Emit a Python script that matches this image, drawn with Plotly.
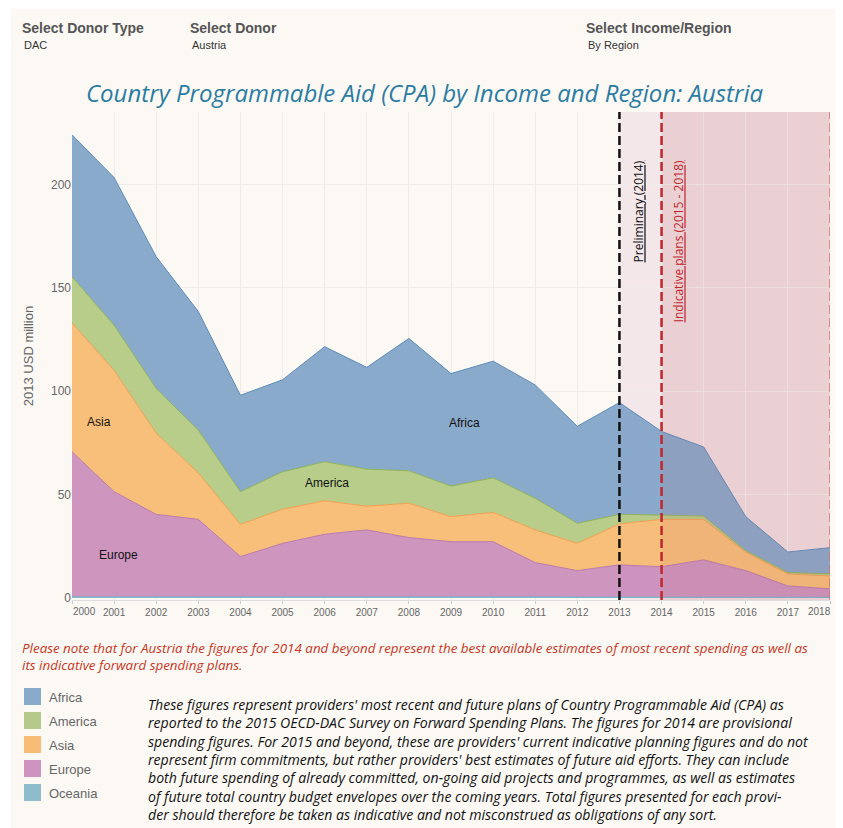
import plotly.graph_objects as go

years = list(range(2000, 2019))
regions = ["Oceania", "Europe", "Asia", "America", "Africa"]
oceania = [0.5, 0.5, 0.5, 0.5, 0.5, 0.8, 0.8, 0.6, 0.7, 0.5, 0.5, 0.5, 0.4, 0.4, 0.4, 0.4, 0.3, 0.3, 0.3]
europe = [70.2, 50.9, 39.9, 37.5, 19.5, 25.6, 30.0, 32.3, 28.5, 26.7, 26.7, 16.6, 12.8, 15.6, 14.7, 18.0, 12.9, 5.5, 4.1]
asia = [62.3, 58.6, 39.3, 22.4, 15.6, 16.5, 16.2, 11.5, 16.6, 12.1, 14.2, 15.8, 13.2, 19.8, 22.9, 19.6, 8.9, 5.8, 6.2]
america = [22.3, 21.9, 21.6, 20.8, 15.8, 18.1, 18.9, 17.9, 15.7, 14.8, 16.7, 15.3, 9.7, 4.6, 2.1, 1.6, 0.8, 0.7, 1.0]
africa = [68.7, 71.4, 63.7, 57.3, 46.6, 44.5, 55.6, 49.2, 64.0, 54.4, 56.4, 54.8, 46.9, 54.1, 40.4, 33.4, 16.4, 9.9, 12.7]
series = {"Oceania": oceania, "Europe": europe, "Asia": asia, "America": america, "Africa": africa}
y_ticks = [0, 50, 100, 150, 200]

fill_colors = {"Africa": "rgba(128,163,199,0.92)", "America": "rgba(178,201,128,0.92)",
               "Asia": "rgba(247,186,112,0.92)", "Europe": "rgba(202,140,186,0.92)",
               "Oceania": "rgba(140,188,203,0.95)"}
line_colors = {"Africa": "#5E8DBB", "America": "#8DB25A", "Asia": "#F0A050",
               "Europe": "#B97AAA", "Oceania": "#6FB3C8"}
legend_colors = {"Africa": "#8AAACB", "America": "#B5C98A", "Asia": "#F7BC78",
                 "Europe": "#CC94BE", "Oceania": "#8FBCCB"}
legend_order = ["Africa", "America", "Asia", "Europe", "Oceania"]

area_labels = [("Asia", 2000.63, 85), ("Europe", 2001.1, 21), ("America", 2006.05, 55.5), ("Africa", 2009.33, 84.5)]

fig = go.Figure()
for r in regions:
    fig.add_trace(go.Scatter(x=years, y=series[r], name=r, stackgroup="one", mode="lines",
                             line=dict(color=line_colors[r], width=1),
                             fillcolor=fill_colors[r], showlegend=False))

# page offset (body margin) and plot area in page pixels
OFF = 8
W, H = 843 - OFF, 828 - OFF
L, R, T, B = 72 - OFF, 830 - OFF, 112 - OFF, 600 - OFF
def px(x):
    return (x - OFF - L) / (R - L)
def py(y):
    return (B - (y - OFF)) / (B - T)

tick_font = dict(family="Liberation Sans, Arial", size=10, color="#666666")

shapes = []
shapes.append(dict(type="rect", xref="paper", yref="paper", x0=px(11), x1=px(845), y0=py(830), y1=py(9),
                   fillcolor="#FCF9F5", line=dict(width=0), layer="below"))
shapes.append(dict(type="rect", xref="x", yref="paper", x0=2013, x1=2014, y0=0, y1=1,
                   fillcolor="#F3E7E9", line=dict(width=0), layer="below"))
shapes.append(dict(type="rect", xref="x", yref="paper", x0=2014, x1=2018, y0=0, y1=1,
                   fillcolor="#F1DDDE", line=dict(width=0), layer="below"))
shapes.append(dict(type="rect", xref="x", yref="paper", x0=2014, x1=2018, y0=0, y1=1,
                   fillcolor="rgba(190,95,120,0.10)", line=dict(width=0), layer="above"))
shapes.append(dict(type="line", xref="x", yref="paper", x0=2013, x1=2013, y0=0, y1=1,
                   line=dict(color="#111111", width=2.5, dash="9px,4px"), layer="above"))
shapes.append(dict(type="line", xref="x", yref="paper", x0=2014, x1=2014, y0=0, y1=1,
                   line=dict(color="#C0262C", width=2.5, dash="9px,4px"), layer="above"))
shapes.append(dict(type="line", xref="x", yref="paper", x0=2018, x1=2018, y0=0, y1=1,
                   line=dict(color="rgba(215,105,105,0.9)", width=1.5, dash="9px,4px"), layer="above"))
for i, r in enumerate(legend_order):
    top = 688 + i * 24
    shapes.append(dict(type="rect", xref="paper", yref="paper", x0=px(24), x1=px(41), y0=py(top + 17), y1=py(top),
                       fillcolor=legend_colors[r], line=dict(width=0)))

annotations = []
# edge year labels pulled inward (as in the reference)
annotations.append(dict(x=years[0], y=py(611), xref="x", yref="paper", text=str(years[0]), showarrow=False,
                        xanchor="left", yanchor="middle", xshift=-1, font=tick_font))
annotations.append(dict(x=years[-1], y=py(611), xref="x", yref="paper", text=str(years[-1]), showarrow=False,
                        xanchor="right", yanchor="middle", xshift=3, font=tick_font))
for name, x, y in area_labels:
    annotations.append(dict(x=x, y=y, xref="x", yref="y", text=name, showarrow=False,
                            font=dict(family="Liberation Sans, Arial", size=12, color="#111111")))
annotations.append(dict(x=2013.45, y=py(158), xref="x", yref="paper", text="<u>Preliminary (2014)</u>",
                        textangle=-90, showarrow=False, yanchor="top",
                        font=dict(family="Open Sans", size=12, color="#111111")))
annotations.append(dict(x=2014.4, y=py(158), xref="x", yref="paper", text="<u>Indicative plans (2015 - 2018)</u>",
                        textangle=-90, showarrow=False, yanchor="top",
                        font=dict(family="Open Sans", size=12, color="#C0262C")))
hdr = [("Select Donor Type", "DAC", 20), ("Select Donor", "Austria", 188), ("Select Income/Region", "By Region", 584)]
for t, v, x in hdr:
    annotations.append(dict(x=px(x), y=py(28), xref="paper", yref="paper", text="<b>" + t + "</b>",
                            showarrow=False, xanchor="left", yanchor="middle",
                            font=dict(family="Liberation Sans, Arial", size=14, color="#555555")))
    annotations.append(dict(x=px(x + 2), y=py(45), xref="paper", yref="paper", text=v,
                            showarrow=False, xanchor="left", yanchor="middle",
                            font=dict(family="Liberation Sans, Arial", size=11, color="#333333")))
annotations.append(dict(x=px(425), y=py(92), xref="paper", yref="paper",
                        text="<i>Country Programmable Aid (CPA) by Income and Region: Austria</i>",
                        showarrow=False, xanchor="center", yanchor="middle",
                        font=dict(family="Open Sans", size=24, color="#2B7CA3")))
annotations.append(dict(x=px(20), y=py(656), xref="paper", yref="paper", align="left",
                        text="<i>Please note that for Austria the figures for 2014 and beyond represent the best available estimates of most recent spending as well as<br>its indicative forward spending plans.</i>",
                        showarrow=False, xanchor="left", yanchor="middle",
                        font=dict(family="Open Sans", size=13.4, color="#C8361E")))
for i, r in enumerate(legend_order):
    annotations.append(dict(x=px(47), y=py(697 + i * 24), xref="paper", yref="paper", text=r,
                            showarrow=False, xanchor="left", yanchor="middle",
                            font=dict(family="Liberation Sans, Arial", size=13, color="#666666")))
body = ("These figures represent providers' most recent and future plans of Country Programmable Aid (CPA) as<br>"
        "reported to the 2015 OECD-DAC Survey on Forward Spending Plans. The figures for 2014 are provisional<br>"
        "spending figures. For 2015 and beyond, these are providers' current indicative planning figures and do not<br>"
        "represent firm commitments, but rather providers' best estimates of future aid efforts. They can include<br>"
        "both future spending of already committed, on-going aid projects and programmes, as well as estimates<br>"
        "of future total country budget envelopes over the coming years. Total figures presented for each provi-<br>"
        "der should therefore be taken as indicative and not misconstrued as obligations of any sort.")
annotations.append(dict(x=px(146), y=py(759), xref="paper", yref="paper", align="left",
                        text="<i>" + body + "</i>", showarrow=False, xanchor="left", yanchor="middle",
                        font=dict(family="Open Sans", size=14.1, color="#111111")))

fig.update_layout(
    width=W, height=H,
    margin=dict(l=L, r=W - R, t=T, b=H - B, autoexpand=False),
    paper_bgcolor="#FFFFFF", plot_bgcolor="rgba(0,0,0,0)",
    shapes=shapes, annotations=annotations, showlegend=False,
    xaxis=dict(range=[2000, 2018], tickmode="array", tickvals=years,
               ticktext=[""] + [str(y) for y in years[1:-1]] + [""],
               showgrid=True, gridcolor="#F1ECE9", gridwidth=1, zeroline=False,
               ticks="outside", ticklen=3, tickcolor="#CCCCCC", showline=True, linecolor="#DDDDDD",
               tickfont=tick_font, automargin=False, fixedrange=True),
    yaxis=dict(range=[-1, 235], tickvals=y_ticks, showgrid=True, gridcolor="#F1ECE9",
               zeroline=False, title=dict(text="2013 USD million", standoff=14,
                                          font=dict(family="Liberation Sans, Arial", size=13, color="#666666")),
               tickfont=dict(family="Liberation Sans, Arial", size=12, color="#666666"), automargin=False,
               ticks="", fixedrange=True),
)

fig.write_html("out.html")
